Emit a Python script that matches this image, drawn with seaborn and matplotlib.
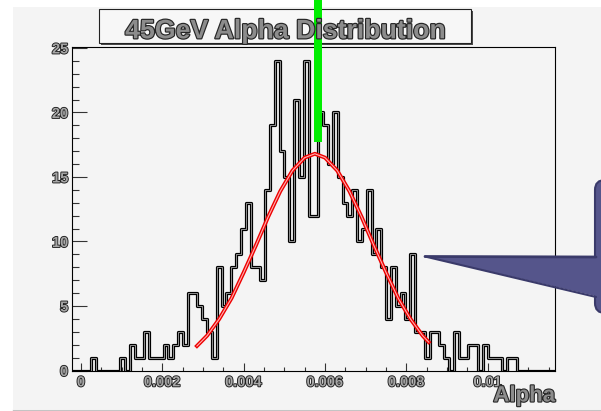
import numpy as np
import pandas as pd
import matplotlib
matplotlib.use('Agg')
import matplotlib.pyplot as plt
import matplotlib.patheffects as pe
from matplotlib.patches import Rectangle, Polygon, FancyBboxPatch
from matplotlib.ticker import MultipleLocator
import seaborn as sns

### data ###
# 100 bins spanning the frame
alpha_lo = -0.000229
alpha_hi = 0.011662
counts = [0, 0, 0, 0, 1, 0, 0, 0, 0, 0,
          1, 0, 2, 1, 1, 3, 1, 1, 1, 2,
          1, 2, 3, 2, 6, 6, 5, 4, 3, 1,
          8, 5, 6, 8, 9, 11, 13, 8, 8, 7,
          14, 19, 24, 17, 15, 10, 21, 15, 24, 12,
          12, 20, 19, 16, 20, 15, 13, 12, 14, 10,
          11, 14, 9, 11, 8, 4, 8, 5, 6, 4,
          9, 3, 3, 1, 3, 3, 2, 1, 0, 3,
          1, 1, 2, 2, 0, 2, 1, 1, 1, 0,
          1, 1, 0, 0, 0, 0, 0, 0, 0, 0]

# gaussian fit curve
fit_x = [0.00285, 0.0031, 0.0034, 0.0037, 0.0040, 0.0043, 0.0046, 0.0049,
         0.0052, 0.0055, 0.00575, 0.0060, 0.0063, 0.0066, 0.0069, 0.0072,
         0.0075, 0.0078, 0.0081, 0.0084, 0.00855]
fit_y = [1.9, 2.7, 4.0, 5.6, 7.6, 9.7, 11.9, 13.9,
         15.5, 16.5, 16.8, 16.5, 15.5, 13.9, 11.9, 9.7,
         7.6, 5.6, 4.0, 2.7, 2.2]

x_ticks = [0, 0.002, 0.004, 0.006, 0.008, 0.01]
x_tick_labels = ['0', '0.002', '0.004', '0.006', '0.008', '0.01']
y_ticks = [0, 5, 10, 15, 20, 25]
y_tick_labels = ['0', '5', '10', '15', '20', '25']

title = '45GeV Alpha Distribution'
x_label = 'Alpha'

edges = np.linspace(alpha_lo, alpha_hi, len(counts) + 1)
df = pd.DataFrame({'alpha': (edges[:-1] + edges[1:]) / 2, 'n': counts})
fit_df = pd.DataFrame({'alpha': fit_x, 'n': fit_y})

plt.rcParams['font.family'] = ['Liberation Sans', 'DejaVu Sans']
W, H = 601, 411
fig = plt.figure(figsize=(W / 100, H / 100), dpi=100)
fig.patch.set_facecolor('white')

# canvas background (pixel coords)
bg = fig.add_axes([0, 0, 1, 1], zorder=-1)
bg.set_xlim(0, W)
bg.set_ylim(H, 0)
bg.axis('off')
bg.add_patch(Rectangle((13, 7), 600, 402, facecolor='#f4f4f4', edgecolor='none'))
bg.plot([13, W], [409.5, 409.5], color='#c4c4c4', lw=1)

### main frame ###
left, right, top, bottom = 71.7, 555.3, 46.7, 370.5
ax = fig.add_axes([left / W, 1 - bottom / H, (right - left) / W, (bottom - top) / H])
ax.set_facecolor('#f4f4f4')

sns.histplot(data=df, x='alpha', weights='n', bins=list(edges), element='step',
             fill=False, color='#8e8e8e', linewidth=0.7, ax=ax,
             path_effects=[pe.Stroke(linewidth=2.3, foreground='black'), pe.Normal()])

sns.lineplot(data=fit_df, x='alpha', y='n', ax=ax, color='#ffb0b0', linewidth=0.8,
             path_effects=[pe.Stroke(linewidth=2.8, foreground='#ee0000'), pe.Normal()])

ax.set_xlim(alpha_lo, alpha_hi)
ax.set_ylim(0, 25.1)
ax.set_xlabel('')
ax.set_ylabel('')
ax.set_xticks(x_ticks)
ax.set_xticklabels(x_tick_labels)
ax.set_yticks(y_ticks)
ax.set_yticklabels(y_tick_labels)
ax.xaxis.set_minor_locator(MultipleLocator(0.0005))
ax.yaxis.set_minor_locator(MultipleLocator(1))

ax.tick_params(axis='y', which='major', length=10.8, width=0.8, direction='in',
               color='#333333', pad=2.5)
ax.tick_params(axis='y', which='minor', length=5.3, width=0.8, direction='in',
               color='#333333')
ax.tick_params(axis='x', which='major', length=5.8, width=0.8, direction='in',
               color='#333333', pad=3.5)
ax.tick_params(axis='x', which='minor', length=3.2, width=0.8, direction='in',
               color='#333333')
for spine in ax.spines.values():
    spine.set_linewidth(0.8)
    spine.set_color('black')

txt_fx = [pe.withStroke(linewidth=1.3, foreground='#1e1e1e')]
for lbl in ax.get_xticklabels() + ax.get_yticklabels():
    lbl.set_fontsize(10.5)
    lbl.set_fontweight('bold')
    lbl.set_color('#a6a6a6')
    lbl.set_path_effects(txt_fx)

### overlay: title box, alpha label, green marker, callout ###
fg = fig.add_axes([0, 0, 1, 1], zorder=5)
fg.set_xlim(0, W)
fg.set_ylim(H, 0)
fg.axis('off')

fg.add_patch(Rectangle((101, 11.5), 371.5, 34, facecolor='#4a4a4a', edgecolor='none'))
fg.add_patch(Rectangle((99, 9.5), 371.5, 34, facecolor='#f7f7f7',
                       edgecolor='#222222', lw=0.8))
fg.text(285, 38.3, title, ha='center', va='baseline', fontsize=19.2,
        fontweight='bold', color='#8c8c8c',
        path_effects=[pe.withStroke(linewidth=1.7, foreground='#262626')])

fg.text(555, 401.5, x_label, ha='right', va='baseline', fontsize=16,
        fontweight='bold', color='#8c8c8c',
        path_effects=[pe.withStroke(linewidth=1.6, foreground='#262626')])

fg.add_patch(Rectangle((314, -1), 8, 142.7, facecolor='#00ee00', edgecolor='none'))

fg.add_patch(FancyBboxPatch((595, 180), 40, 133,
                            boxstyle='round,pad=0,rounding_size=10',
                            facecolor='#55558b', edgecolor='#3a3a6a', lw=1.5))
fg.add_patch(Polygon([(425, 256.5), (600, 257), (600, 297)], closed=True,
                     facecolor='#55558b', edgecolor='none'))
fg.plot([425, 596], [256.5, 257], color='#3a3a6a', lw=2.0, solid_capstyle='round')
fg.plot([425, 596], [256.5, 297], color='#3a3a6a', lw=1.5, solid_capstyle='round')

fig.savefig('out.png', dpi=100)
